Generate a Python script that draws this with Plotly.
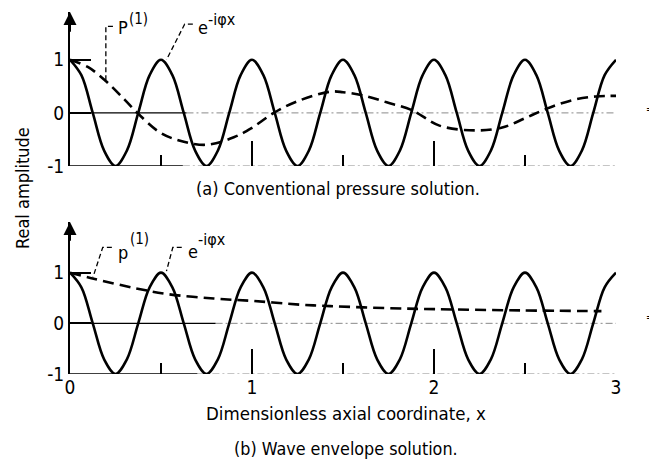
import plotly.graph_objects as go

# solid curve, real part of e^{-i phi x}, read at every 1/16 in x
x_wave = [0, 0.0625, 0.125, 0.1875, 0.25, 0.3125, 0.375, 0.4375,
          0.5, 0.5625, 0.625, 0.6875, 0.75, 0.8125, 0.875, 0.9375,
          1.0, 1.0625, 1.125, 1.1875, 1.25, 1.3125, 1.375, 1.4375,
          1.5, 1.5625, 1.625, 1.6875, 1.75, 1.8125, 1.875, 1.9375,
          2.0, 2.0625, 2.125, 2.1875, 2.25, 2.3125, 2.375, 2.4375,
          2.5, 2.5625, 2.625, 2.6875, 2.75, 2.8125, 2.875, 2.9375, 3.0]
y_wave = [1, 0.71, 0, -0.71, -1, -0.71, 0, 0.71,
          1, 0.71, 0, -0.71, -1, -0.71, 0, 0.71,
          1, 0.71, 0, -0.71, -1, -0.71, 0, 0.71,
          1, 0.71, 0, -0.71, -1, -0.71, 0, 0.71,
          1, 0.71, 0, -0.71, -1, -0.71, 0, 0.71,
          1, 0.71, 0, -0.71, -1, -0.71, 0, 0.71, 1]

# (a) conventional pressure solution P(1)
x_conv = [0, 0.1, 0.2, 0.3, 0.37, 0.49, 0.6, 0.75, 0.9, 1.0, 1.12, 1.25, 1.43,
          1.5, 1.61, 1.74, 1.88, 2.03, 2.23, 2.38, 2.5, 2.62, 2.76, 2.89, 3.0]
y_conv = [1, 0.86, 0.59, 0.25, 0, -0.36, -0.52, -0.60, -0.46, -0.28, 0, 0.22, 0.40,
          0.39, 0.33, 0.20, 0.05, -0.24, -0.33, -0.27, -0.10, 0.08, 0.24, 0.31, 0.32]

# (b) wave envelope solution p(1)
x_env = [0, 0.13, 0.35, 0.53, 0.79, 1.01, 1.26, 1.43, 1.74, 2.01, 2.47, 2.92]
y_env = [1, 0.88, 0.70, 0.58, 0.49, 0.44, 0.37, 0.34, 0.30, 0.28, 0.255, 0.24]

x_ticks = [0, 1, 2, 3]
y_ticks = [-1, 0, 1]
y_tick_text = ['-1', '0', '1']

FONT = 'DejaVu Sans Condensed, Liberation Sans Narrow, Roboto, sans-serif'
dash_style = '11px,6px'
W, H = 657, 466
OFF = 8  # the page body adds an 8px margin, so positions are shifted back by that


def fx(xp):
    return (xp - OFF) / W


def fy(yp):
    return 1 - (yp - OFF) / H


fig = go.Figure()

for xa, ya, xd, yd, zero_end, base_end in [('x', 'y', x_conv, y_conv, 0.64, 0.62),
                                           ('x2', 'y2', x_env, y_env, 0.8, 0.7)]:
    # zero line and base line: solid near the axis, faint dash-dot further on
    fig.add_trace(go.Scatter(x=[zero_end, 3], y=[0, 0], mode='lines',
                             line=dict(color='#8a8a8a', width=1, dash='7px,3px,2px,3px'),
                             xaxis=xa, yaxis=ya, hoverinfo='skip'))
    fig.add_trace(go.Scatter(x=[base_end, 3], y=[-1, -1], mode='lines',
                             line=dict(color='#8a8a8a', width=1, dash='7px,3px,2px,3px'),
                             xaxis=xa, yaxis=ya, hoverinfo='skip'))
    fig.add_trace(go.Scatter(x=[0, zero_end], y=[0, 0], mode='lines',
                             line=dict(color='black', width=1.2),
                             xaxis=xa, yaxis=ya, hoverinfo='skip'))
    fig.add_trace(go.Scatter(x=[0, base_end], y=[-1, -1], mode='lines',
                             line=dict(color='black', width=1.5),
                             xaxis=xa, yaxis=ya, hoverinfo='skip'))
    fig.add_trace(go.Scatter(x=x_wave, y=y_wave, mode='lines',
                             line=dict(color='black', width=2.6, shape='spline'),
                             xaxis=xa, yaxis=ya))
    fig.add_trace(go.Scatter(x=xd, y=yd, mode='lines',
                             line=dict(color='black', width=2.6, shape='spline',
                                       dash=dash_style),
                             xaxis=xa, yaxis=ya))

xaxis_common = dict(
    range=[0, 3], domain=[fx(70), fx(616)], showgrid=False, zeroline=False, automargin=False,
    showline=False,
    ticks='inside', tickvals=x_ticks, ticklen=25, tickwidth=1.5, tickcolor='black',
    minor=dict(ticks='inside', dtick=0.5, ticklen=11, tickwidth=1.5, tickcolor='black'),
    fixedrange=True,
)
yaxis_common = dict(
    showgrid=False, zeroline=False, automargin=False,
    showline=True, linecolor='black', linewidth=2,
    ticks='inside', tickvals=y_ticks, ticktext=y_tick_text,
    ticklen=21, tickwidth=1.5, tickcolor='black',
    tickfont=dict(family=FONT, size=19, color='black'),
    fixedrange=True,
)

fig.update_layout(
    width=W, height=H,
    margin=dict(l=0, r=0, t=0, b=0),
    paper_bgcolor='white', plot_bgcolor='white',
    showlegend=False,
    font=dict(family=FONT, color='black'),
    xaxis=dict(xaxis_common, anchor='y', showticklabels=False),
    yaxis=dict(yaxis_common, range=[-1, 1.9], domain=[fy(166), fy(12)], anchor='x'),
    xaxis2=dict(xaxis_common, anchor='y2', showticklabels=True,
                tickfont=dict(family=FONT, size=19, color='black')),
    yaxis2=dict(yaxis_common, range=[-1, 2.0], domain=[fy(374), fy(222)], anchor='x2'),
)


def at(xp, yp, anchor='center'):
    return dict(x=fx(xp), y=fy(yp), xref='paper', yref='paper', showarrow=False,
                xanchor=anchor, yanchor='middle')


annotations = [
    # axis arrow heads
    dict(x=0, y=1.9, ax=0, ay=1.5, xref='x', yref='y', axref='x', ayref='y',
         showarrow=True, arrowhead=2, arrowsize=1.3, arrowwidth=2, arrowcolor='black', text=''),
    dict(x=0, y=2.0, ax=0, ay=1.6, xref='x2', yref='y2', axref='x2', ayref='y2',
         showarrow=True, arrowhead=2, arrowsize=1.3, arrowwidth=2, arrowcolor='black', text=''),
    # curve labels, base letter and superscript placed separately
    dict(at(116, 28, 'left'), text='P', font=dict(size=18)),
    dict(at(127, 19, 'left'), text='(1)', font=dict(size=15)),
    dict(at(196, 27, 'left'), text='e', font=dict(size=18)),
    dict(at(206, 19, 'left'), text='-iφx', font=dict(size=16)),
    dict(at(116, 252, 'left'), text='p', font=dict(size=18)),
    dict(at(128, 239, 'left'), text='(1)', font=dict(size=15)),
    dict(at(186, 251, 'left'), text='e', font=dict(size=18)),
    dict(at(196, 239, 'left'), text='-iφx', font=dict(size=16)),
    # captions and titles
    dict(at(338, 188), text='(a) Conventional pressure solution.', font=dict(size=18)),
    dict(at(346, 413), text='Dimensionless axial coordinate, x', font=dict(size=18.5)),
    dict(at(346, 448), text='(b) Wave envelope solution.', font=dict(size=17.8)),
    dict(at(22, 188), text='Real amplitude', textangle=-90, font=dict(size=18)),
    # stray marks at right edge
    dict(at(650, 109), text='=', font=dict(size=10)),
    dict(at(650, 317), text='=', font=dict(size=10)),
]
fig.update_layout(annotations=annotations)

# dashed leader lines from labels to curves
leader = dict(color='black', width=1.3, dash='5px,3px')
fig.add_shape(type='path', path='M 0.236 1.63 L 0.197 1.63 L 0.197 0.60', xref='x', yref='y', line=leader)
fig.add_shape(type='path', path='M 0.675 1.67 L 0.63 1.67 L 0.53 1.0', xref='x', yref='y', line=leader)
fig.add_shape(type='path', path='M 0.23 1.50 L 0.18 1.50 L 0.126 0.91', xref='x2', yref='y2', line=leader)
fig.add_shape(type='path', path='M 0.614 1.50 L 0.565 1.50 L 0.53 1.03', xref='x2', yref='y2', line=leader)

fig.write_html("out.html")
